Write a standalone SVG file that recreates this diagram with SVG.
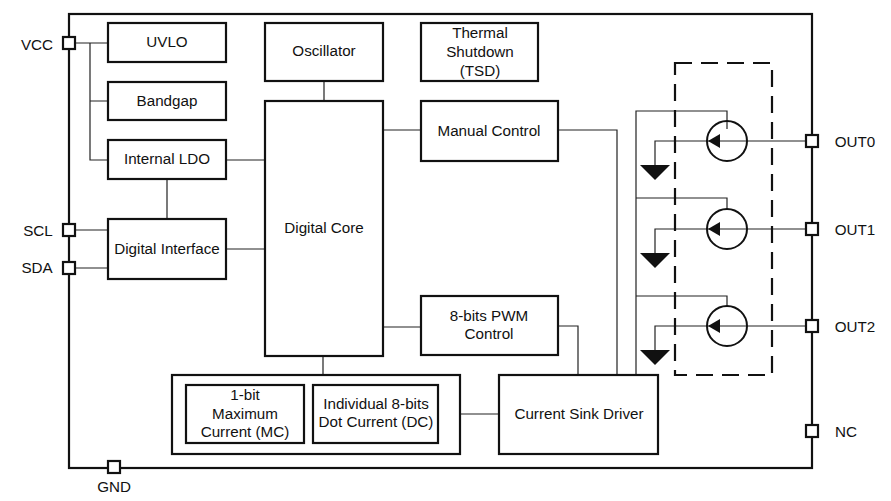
<svg xmlns="http://www.w3.org/2000/svg" width="891" height="501" viewBox="0 0 891 501">
<style>
.b{fill:#fff;stroke:#111;stroke-width:2.2}
.c{fill:none;stroke:#222;stroke-width:1.2}
.t{font-family:"Liberation Sans",Arial,sans-serif;font-size:15.2px;fill:#111;text-anchor:middle}
.p{fill:#fff;stroke:#111;stroke-width:2.2}
.s{fill:none;stroke:#111;stroke-width:2}
.g{fill:#111;stroke:none}
.d{fill:none;stroke:#111;stroke-width:2.2;stroke-dasharray:17 9}
</style>
<defs>
<g id="src"><circle r="20" class="s"/><path class="g" d="M-19 0L-7 -7V7Z"/></g>
</defs>
<rect id="chip" x="69" y="14" width="743" height="454" fill="#fff" stroke="#111" stroke-width="2.2"/>
<g id="connectors">
<path class="c" d="M75 43H108M90 43V160H108M90 101H108M226 160H265M167 220V180M75 230H108M75 268H108M226 249H265M324 82V101M383 130H421M383 327H421M323 356V375M460 414H499M558 130H617V375M558 326H578V375"/>
<path class="c" d="M636 375V111H727V129M636 198H727V209M636 296H727V306"/>
<path class="c" d="M812 141H655V166M812 229H655V254M812 326H655V351"/>
</g>
<path id="dash" class="d" d="M675 63H772V375H675Z"/>
<g id="uvlo"><rect class="b" x="108" y="23" width="118" height="39"/><text class="t" x="167" y="47">UVLO</text></g>
<g id="bandgap"><rect class="b" x="108" y="82" width="118" height="38"/><text class="t" x="167" y="106">Bandgap</text></g>
<g id="ldo"><rect class="b" x="108" y="140" width="118" height="39"/><text class="t" x="167" y="164">Internal LDO</text></g>
<g id="digif"><rect class="b" x="108" y="219" width="118" height="60"/><text class="t" x="167" y="254">Digital Interface</text></g>
<g id="osc"><rect class="b" x="265" y="23" width="118" height="58"/><text class="t" x="324" y="56">Oscillator</text></g>
<g id="core"><rect class="b" x="265" y="101" width="118" height="255"/><text class="t" x="324" y="233">Digital Core</text></g>
<g id="tsd"><rect class="b" x="421" y="23" width="117" height="58"/><text class="t" x="480" y="38">Thermal</text><text class="t" x="480" y="57">Shutdown</text><text class="t" x="480" y="76">(TSD)</text></g>
<g id="manual"><rect class="b" x="421" y="101" width="137" height="60"/><text class="t" x="489" y="136">Manual Control</text></g>
<g id="pwm"><rect class="b" x="421" y="296" width="137" height="59"/><text class="t" x="489" y="321">8-bits PWM</text><text class="t" x="489" y="339">Control</text></g>
<g id="driver"><rect class="b" x="499" y="375" width="159" height="79"/><text class="t" x="579" y="419">Current Sink Driver</text></g>
<g id="reg"><rect class="b" x="172" y="375" width="288" height="79"/></g>
<g id="mc"><rect class="b" x="186" y="385" width="118" height="58"/><text class="t" x="245" y="400">1-bit</text><text class="t" x="245" y="419">Maximum</text><text class="t" x="245" y="437">Current (MC)</text></g>
<g id="dc"><rect class="b" x="313" y="385" width="125" height="58"/><text class="t" x="376" y="409">Individual 8-bits</text><text class="t" x="376" y="427">Dot Current (DC)</text></g>
<g id="s0"><use href="#src" x="727" y="141"/><path class="g" d="M640 165H670L655 180Z"/></g>
<g id="s1"><use href="#src" x="727" y="229"/><path class="g" d="M640 253H670L655 268Z"/></g>
<g id="s2"><use href="#src" x="727" y="326"/><path class="g" d="M640 350H670L655 365Z"/></g>
<g id="vcc"><rect class="p" x="63" y="37" width="12" height="12"/><text class="t" x="37" y="50">VCC</text></g>
<g id="scl"><rect class="p" x="63" y="224" width="12" height="12"/><text class="t" x="38" y="236">SCL</text></g>
<g id="sda"><rect class="p" x="63" y="262" width="12" height="12"/><text class="t" x="37" y="273">SDA</text></g>
<g id="gnd"><rect class="p" x="108" y="461" width="12" height="12"/><text class="t" x="114" y="492">GND</text></g>
<g id="out0"><rect class="p" x="806" y="135" width="12" height="12"/><text class="t" x="855" y="147">OUT0</text></g>
<g id="out1"><rect class="p" x="806" y="223" width="12" height="12"/><text class="t" x="855" y="235">OUT1</text></g>
<g id="out2"><rect class="p" x="806" y="320" width="12" height="12"/><text class="t" x="855" y="332">OUT2</text></g>
<g id="nc"><rect class="p" x="806" y="425" width="12" height="12"/><text class="t" x="846" y="437">NC</text></g>
</svg>
